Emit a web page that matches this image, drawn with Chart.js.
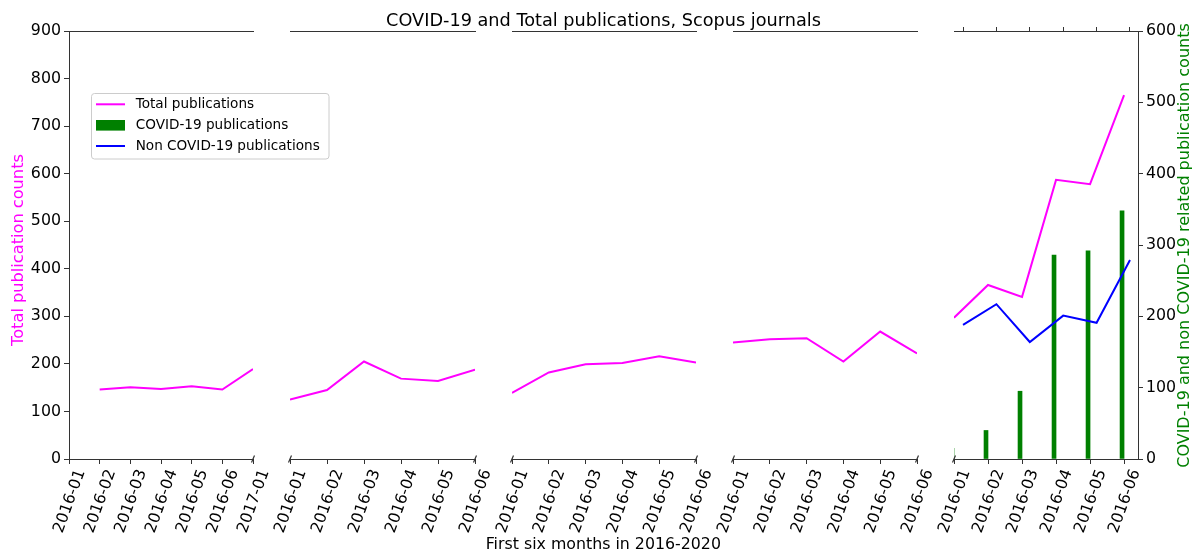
<!DOCTYPE html>
<html>
<head>
<meta charset="utf-8">
<title>COVID-19 and Total publications, Scopus journals</title>
<script src="https://cdn.jsdelivr.net/npm/chart.js@4"></script>
<style>
  html, body { margin: 0; padding: 0; background: #fff; }
  #wrap { position: relative; width: 1196px; height: 552px; }
  #wrap canvas { position: absolute; left: 0; top: 0; }
</style>
</head>
<body>
<div id="wrap">
  <canvas id="p0" width="1196" height="552"></canvas>
  <canvas id="p1" width="1196" height="552"></canvas>
  <canvas id="p2" width="1196" height="552"></canvas>
  <canvas id="p3" width="1196" height="552"></canvas>
  <canvas id="p4" width="1196" height="552"></canvas>
</div>
<script>
// Data (broken x axis, five panels)
const months = ['2016-01', '2016-02', '2016-03', '2016-04', '2016-05', '2016-06'];
const firstPanelMonths = ['2016-01', '2016-02', '2016-03', '2016-04', '2016-05', '2016-06', '2017-01'];
const panelTicks = [firstPanelMonths, months, months, months, months];

const totalPanel1 = [null, 146, 151, 147, 153, 146, 189];
const totalPanel2 = [125, 145, 205, 169, 164, 188];
const totalPanel3 = [139, 182, 199, 202, 216, 203];
const totalPanel4 = [245, 252, 254, 205, 268, 222];
const totalPanel5 = [297, 366, 341, 587, 578, 765];
const covidPanel5 = [15, 40, 95, 286, 292, 348];
const nonCovidPanel5 = [188, 217, 164, 201, 191, 279];
const totals = [totalPanel1, totalPanel2, totalPanel3, totalPanel4, totalPanel5];

const seriesNames = ['Total publications', 'COVID-19 publications', 'Non COVID-19 publications'];
const seriesColors = ['#ff00ff', '#008000', '#0000ff'];

const titleText = 'COVID-19 and Total publications, Scopus journals';
const xLabel = 'First six months in 2016-2020';
const yLabelLeft = 'Total publication counts';
const yLabelRight = 'COVID-19 and non COVID-19 related publication counts';

// layout of the panels (px)
const PANEL_L = [69, 290, 512, 733, 954];
const PANEL_R = [253, 475, 696, 917, 1138];
const W = 1196;
const AX = '#333';
const FONT = 'DejaVu Sans';
const TICK_SIZE = 15.8;

Chart.defaults.font.family = FONT;
Chart.defaults.animation = false;

const pts = arr => arr.map((v, i) => ({ x: i, y: v }));

function fixHeight(h) {
  return s => { s.height = h; s.paddingLeft = 0; s.paddingRight = 0; };
}
function fixWidth(w) {
  return s => { s.width = w; s.paddingTop = 0; s.paddingBottom = 0; };
}

function bottomAxis(labels, max) {
  return {
    type: 'linear', position: 'bottom', min: 0, max: max, offset: false,
    afterFit: fixHeight(93),
    border: { color: AX, width: 1 },
    grid: { offset: false, drawOnChartArea: false, drawTicks: true, tickLength: 5, color: AX },
    ticks: {
      stepSize: 1, includeBounds: false, autoSkip: false,
      minRotation: 70, maxRotation: 70, labelOffset: 12, color: '#000',
      font: { family: FONT, size: TICK_SIZE },
      callback: v => Number.isInteger(v) ? (labels[v] ?? '') : ''
    }
  };
}

function topAxis(min, max, showTicks) {
  return {
    type: 'linear', position: 'top', min: min, max: max, offset: false,
    afterFit: fixHeight(0),
    border: { color: AX, width: 1 },
    grid: { offset: false, display: showTicks, drawOnChartArea: false, tickLength: 4, color: AX },
    ticks: { display: false, stepSize: 1, includeBounds: false }
  };
}

// small diagonal marks where the x axis is broken
const breakMarks = {
  id: 'breakMarks',
  afterDraw(chart, args, opts) {
    const { ctx, chartArea: a } = chart;
    ctx.save();
    ctx.strokeStyle = AX;
    ctx.lineWidth = 1.2;
    const mark = x => {
      ctx.beginPath();
      ctx.moveTo(x - 1.5, a.bottom + 3.5);
      ctx.lineTo(x + 1.5, a.bottom - 3.5);
      ctx.stroke();
    };
    if (opts.left) mark(a.left);
    if (opts.right) mark(a.right);
    ctx.restore();
  }
};

// figure-level texts and the framed legend
const figureText = {
  id: 'figureText',
  afterDraw(chart) {
    const ctx = chart.ctx;
    ctx.save();
    ctx.fillStyle = '#000';
    ctx.textAlign = 'center';
    ctx.textBaseline = 'alphabetic';
    ctx.font = `17.7px "${FONT}"`;
    ctx.fillText(titleText, 603.5, 26);
    ctx.font = `15.8px "${FONT}"`;
    ctx.fillText(xLabel, 603.3, 549.3);

    ctx.save();
    ctx.translate(22.5, 250);
    ctx.rotate(-Math.PI / 2);
    ctx.fillStyle = seriesColors[0];
    ctx.font = `16.2px "${FONT}"`;
    ctx.fillText(yLabelLeft, 0, 0);
    ctx.restore();

    ctx.save();
    ctx.translate(1188.5, 245.5);
    ctx.rotate(-Math.PI / 2);
    ctx.fillStyle = seriesColors[1];
    ctx.font = `16px "${FONT}"`;
    ctx.fillText(yLabelRight, 0, 0);
    ctx.restore();

    // legend
    ctx.beginPath();
    ctx.roundRect(91.5, 93.5, 237.5, 65.5, 3);
    ctx.fillStyle = 'rgba(255,255,255,0.8)';
    ctx.fill();
    ctx.strokeStyle = '#cccccc';
    ctx.lineWidth = 1;
    ctx.stroke();
    const rows = [104.3, 125.3, 146];
    ctx.font = `13.6px "${FONT}"`;
    ctx.textAlign = 'left';
    ctx.textBaseline = 'middle';
    seriesNames.forEach((name, i) => {
      const y = rows[i];
      if (i === 1) {
        ctx.fillStyle = seriesColors[i];
        ctx.fillRect(96, y - 5.3, 29, 10.6);
      } else {
        ctx.strokeStyle = seriesColors[i];
        ctx.lineWidth = 2;
        ctx.beginPath();
        ctx.moveTo(96, y);
        ctx.lineTo(125, y);
        ctx.stroke();
      }
      ctx.fillStyle = '#000';
      ctx.fillText(name, 135.7, y + 0.5);
    });
    ctx.restore();
  }
};

function makePanel(p) {
  const last = p === 4;
  const nTicks = panelTicks[p].length - 1;
  const datasets = [{
    label: seriesNames[0], data: pts(totals[p]),
    borderColor: seriesColors[0], backgroundColor: seriesColors[0],
    borderWidth: 2, pointRadius: 0, tension: 0, fill: false,
    xAxisID: 'x', yAxisID: 'y', order: 3
  }];
  if (last) {
    datasets.push({
      type: 'bar', label: seriesNames[1], data: pts(covidPanel5),
      backgroundColor: seriesColors[1], borderWidth: 0, barThickness: 4, clip: 0,
      xAxisID: 'x', yAxisID: 'y2', order: 2
    });
    datasets.push({
      label: seriesNames[2], data: pts(nonCovidPanel5),
      borderColor: seriesColors[2], backgroundColor: seriesColors[2],
      borderWidth: 2, pointRadius: 0, tension: 0, fill: false,
      xAxisID: 'xTop', yAxisID: 'y2', order: 1
    });
  }

  const scales = {
    x: bottomAxis(panelTicks[p], last ? 5.41 : nTicks),
    xTop: last ? topAxis(-0.27, 5.24, true) : topAxis(0, nTicks, false),
    y: {
      type: 'linear', position: 'left', min: 0, max: 900, display: p === 0,
      border: { color: AX, width: 1 },
      grid: { drawOnChartArea: false, tickLength: 5, color: AX },
      ticks: { stepSize: 100, color: '#000', font: { family: FONT, size: TICK_SIZE } }
    }
  };
  if (p === 0) scales.y.afterFit = fixWidth(69);
  if (last) {
    scales.y2 = {
      type: 'linear', position: 'right', min: 0, max: 600,
      afterFit: fixWidth(W - PANEL_R[4]),
      border: { color: AX, width: 1 },
      grid: { drawOnChartArea: false, tickLength: 5, color: AX },
      ticks: { stepSize: 100, color: '#000', font: { family: FONT, size: TICK_SIZE } }
    };
  }

  const plugins = [breakMarks];
  if (p === 0) plugins.push(figureText);

  return new Chart(document.getElementById('p' + p), {
    type: 'line',
    data: { datasets },
    plugins,
    options: {
      responsive: false,
      animation: false,
      events: [],
      devicePixelRatio: 1,
      layout: {
        padding: {
          left: p === 0 ? 0 : PANEL_L[p],
          right: last ? 0 : W - PANEL_R[p],
          top: 31,
          bottom: 0
        }
      },
      scales,
      plugins: {
        legend: { display: false },
        title: { display: false },
        tooltip: { enabled: false },
        breakMarks: { left: p > 0, right: !last }
      }
    }
  });
}

for (let p = 0; p < 5; p++) makePanel(p);
</script>
</body>
</html>
